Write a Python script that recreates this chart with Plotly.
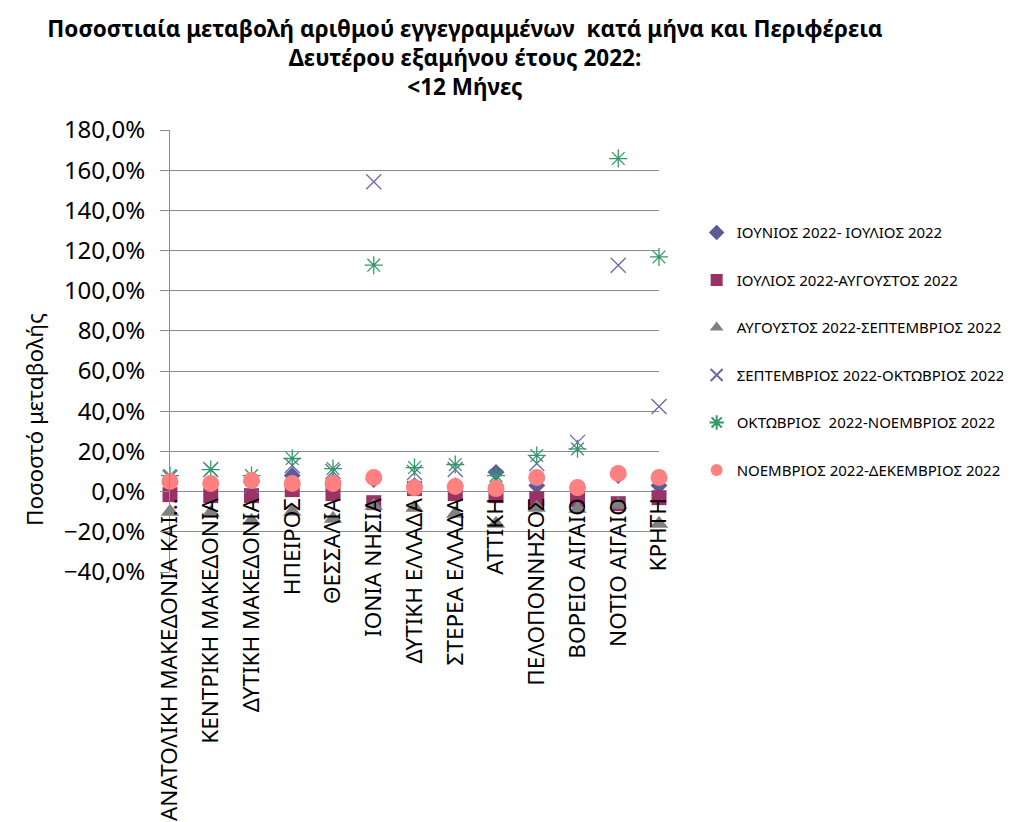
import plotly.graph_objects as go

# Περιφέρειες (κατηγορίες άξονα x)
regions = ["ΑΝΑΤΟΛΙΚΗ ΜΑΚΕΔΟΝΙΑ ΚΑΙ...", "ΚΕΝΤΡΙΚΗ ΜΑΚΕΔΟΝΙΑ", "ΔΥΤΙΚΗ ΜΑΚΕΔΟΝΙΑ", "ΗΠΕΙΡΟΣ",
           "ΘΕΣΣΑΛΙΑ", "ΙΟΝΙΑ ΝΗΣΙΑ", "ΔΥΤΙΚΗ ΕΛΛΑΔΑ", "ΣΤΕΡΕΑ ΕΛΛΑΔΑ", "ΑΤΤΙΚΗ",
           "ΠΕΛΟΠΟΝΝΗΣΟΣ", "ΒΟΡΕΙΟ ΑΙΓΑΙΟ", "ΝΟΤΙΟ ΑΙΓΑΙΟ", "ΚΡΗΤΗ"]

# Ποσοστιαία μεταβολή (%) ανά ζεύγος μηνών
jun_jul = [4, 4, 5, 8, 5, 6, 3, 3, 9.6, 3, 2, 8, 3]
jul_aug = [-1.5, -2, -2, 1, -1, -5.5, 1.5, -1, -2, -3.5, -4, -6, -3]
aug_sep = [-10, -10.5, -14.5, -10, -13.5, -7, -8, -11, -16, -8, -8.5, -6.5, -16]
sep_oct = [7, 11, 3, 13, 10, 154.2, 9.5, 11, 6.5, 14, 24.5, 112.7, 42.4]
oct_nov = [8, 11, 8, 16.5, 11.5, 112.7, 12, 13.5, 8, 18, 21.3, 165.8, 116.8]
nov_dec = [5, 4, 5.5, 4, 4, 7, 2, 2.5, 1.5, 7, 2, 9, 7]

series = [
    ("ΙΟΥΝΙΟΣ 2022- ΙΟΥΛΙΟΣ 2022", jun_jul, "diamond", "#5b5b9a", 13),
    ("ΙΟΥΛΙΟΣ 2022-ΑΥΓΟΥΣΤΟΣ 2022", jul_aug, "square", "#993366", 15),
    ("ΑΥΓΟΥΣΤΟΣ 2022-ΣΕΠΤΕΜΒΡΙΟΣ 2022", aug_sep, "triangle-up", "#808080", 16),
    ("ΣΕΠΤΕΜΒΡΙΟΣ 2022-ΟΚΤΩΒΡΙΟΣ 2022", sep_oct, "x-thin-open", "#6868a8", 15),
    ("ΟΚΤΩΒΡΙΟΣ  2022-ΝΟΕΜΒΡΙΟΣ 2022", oct_nov, "asterisk-open", "#339966", 15),
    ("ΝΟΕΜΒΡΙΟΣ 2022-ΔΕΚΕΜΒΡΙΟΣ 2022", nov_dec, "circle", "#ff8080", 17),
]

fig = go.Figure()
for i, (name, vals, sym, col, size) in enumerate(series):
    marker = dict(symbol=sym, size=size, color=col)
    if sym.endswith("open"):
        marker["line"] = dict(color=col, width=1.3)
    fig.add_trace(go.Scatter(x=regions, y=vals, mode="markers", name=name,
                             marker=marker, cliponaxis=False, legendgroup=str(i)))

grid = "#8c8c8c"
# η σελίδα έχει περιθώριο 8px, οπότε τα περιθώρια μετατοπίζονται αντίστοιχα
fig.update_layout(
    width=1011, height=822,
    margin=dict(l=162, r=360, t=122, b=258, autoexpand=False),
    plot_bgcolor="white", paper_bgcolor="white",
    font=dict(family="Noto Sans, Open Sans, sans-serif", color="black"),
    separators=",.",
    title=dict(text="Ποσοστιαία μεταβολή αριθμού εγγεγραμμένων  κατά μήνα και Περιφέρεια<br>"
                    "Δευτέρου εξαμήνου έτους 2022:<br><12 Μήνες",
               x=0.452, xanchor="center", y=0.965, yanchor="top",
               font=dict(size=22.5, family="Noto Sans, sans-serif", weight="bold")),
    showlegend=True,
    legend=dict(x=1.077, xanchor="left", y=0.805, yanchor="top",
                font=dict(size=15), tracegroupgap=25, itemsizing="constant"),
)

fig.update_yaxes(range=[-40, 180], dtick=20, tickformat=".1f", ticksuffix="%",
                 showgrid=True, gridcolor=grid, gridwidth=1,
                 zeroline=True, zerolinecolor=grid, zerolinewidth=1,
                 showline=True, linecolor=grid, linewidth=1,
                 ticks="outside", ticklen=9, tickcolor=grid, automargin=False,
                 tickfont=dict(size=24), ticklabelstandoff=10)

fig.update_xaxes(type="category", range=[0, 12], showgrid=False, showline=False,
                 anchor="free", position=40 / 220, tickangle=-90, automargin=False,
                 tickfont=dict(size=22.5), ticks="", ticklabelstandoff=1)

fig.add_annotation(text="Ποσοστό μεταβολής", textangle=-90, showarrow=False,
                   xref="paper", yref="paper", x=-0.276, y=0.344,
                   xanchor="center", yanchor="middle", font=dict(size=22.5))

fig.write_html("out.html")
